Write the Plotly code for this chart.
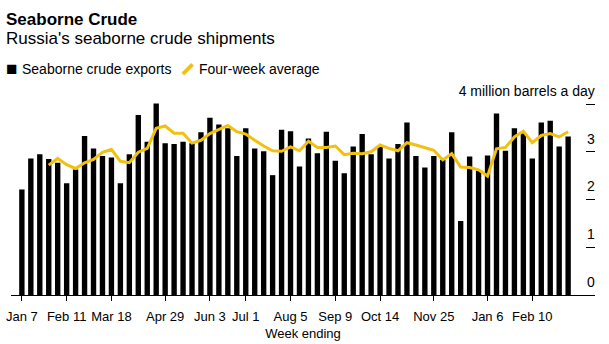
import plotly.graph_objects as go
import pandas as pd

weeks = pd.date_range("2018-01-07", periods=62, freq="7D")
exports = [2.21, 2.86, 2.95, 2.85, 2.77, 2.34, 2.63, 3.33, 3.07, 2.91,
           2.88, 2.34, 2.95, 3.77, 3.21, 4.01, 3.18, 3.16, 3.21, 3.18,
           3.41, 3.71, 3.57, 3.49, 2.91, 3.49, 3.07, 3.01, 2.51, 3.46,
           3.43, 2.69, 3.28, 2.97, 3.42, 2.81, 2.55, 3.11, 3.37, 2.95,
           3.11, 2.86, 3.16, 3.61, 2.91, 2.67, 2.91, 2.83, 3.41, 1.55,
           2.90, 2.60, 2.92, 3.80, 3.02, 3.49, 3.39, 2.86, 3.61, 3.65,
           3.11, 3.32]
avg_weeks = weeks[3:]
four_week_avg = [2.72, 2.86, 2.73, 2.65, 2.77, 2.84, 2.99, 3.05, 2.80, 2.77,
                 2.99, 3.07, 3.49, 3.54, 3.39, 3.39, 3.18, 3.24, 3.38, 3.47,
                 3.55, 3.42, 3.37, 3.24, 3.12, 3.02, 3.01, 3.10, 3.02, 3.22,
                 3.09, 3.09, 3.12, 2.94, 2.97, 2.96, 3.00, 3.14, 3.07, 3.02,
                 3.19, 3.14, 3.09, 3.03, 2.83, 2.96, 2.68, 2.67, 2.62, 2.49,
                 3.06, 3.09, 3.31, 3.43, 3.19, 3.34, 3.38, 3.31, 3.42]

x_tick_dates = ["2018-01-07", "2018-02-11", "2018-03-18", "2018-04-29", "2018-06-03",
                "2018-07-01", "2018-08-05", "2018-09-09", "2018-10-14", "2018-11-25",
                "2019-01-06", "2019-02-10"]
x_tick_labels = ["Jan 7", "Feb 11", "Mar 18", "Apr 29", "Jun 3", "Jul 1", "Aug 5",
                 "Sep 9", "Oct 14", "Nov 25", "Jan 6", "Feb 10"]
y_tick_vals = [0, 1, 2, 3, 4]
y_tick_labels = ["0", "1", "2", "3", "4 million barrels a day"]

FONT = "Liberation Sans, Arial, sans-serif"
YELLOW = "#F2C10F"

# plot area in pixels
L, R, T, B = 11, 14, 102, 49
W, H = 609, 344
PW = W - L - R
PH = H - T - B


def px_x(px):
    return (px - L) / PW


def px_y(py):
    return (H - B - py) / PH


fig = go.Figure()
fig.add_trace(go.Bar(x=weeks, y=exports, name="Seaborne crude exports",
                     marker=dict(color="#000000", line=dict(width=0))))
fig.add_trace(go.Scatter(x=avg_weeks, y=four_week_avg, name="Four-week average",
                         mode="lines", line=dict(color=YELLOW, width=3)))

leg_y = px_y(68.5)
fig.update_layout(
    width=W, height=H,
    margin=dict(l=L, r=R, t=T, b=B, autoexpand=False),
    paper_bgcolor="white", plot_bgcolor="white",
    font=dict(family=FONT, size=13, color="#000"),
    bargap=0.4,
    showlegend=False,
    xaxis=dict(type="date", range=["2017-12-29 12:00", "2019-03-31"],
               tickvals=x_tick_dates, ticktext=x_tick_labels,
               showline=True, linecolor="#000", linewidth=1,
               ticks="outside", ticklen=5, tickcolor="#000",
               showgrid=False, zeroline=False, automargin=False,
               tickfont=dict(size=13, color="#000"), ticklabelstandoff=4,
               title=dict(text="Week ending", font=dict(size=13, color="#000"), standoff=6)),
    yaxis=dict(range=[0, PH / 47.75], side="right",
               tickvals=y_tick_vals, ticktext=y_tick_labels,
               ticks="inside", ticklen=9, tickcolor="#000",
               ticklabelposition="inside", ticklabeloverflow="allow",
               ticklabelshift=-13, ticklabelstandoff=-9,
               showgrid=False, zeroline=False, showline=False, automargin=False,
               tickfont=dict(size=14, color="#000")),
    annotations=[
        dict(text="<b>Seaborne Crude</b>", xref="paper", yref="paper",
             x=px_x(4), y=px_y(19), xanchor="left", yanchor="middle",
             showarrow=False, font=dict(size=17, color="#000")),
        dict(text="Russia's seaborne crude shipments", xref="paper", yref="paper",
             x=px_x(4), y=px_y(39), xanchor="left", yanchor="middle",
             showarrow=False, font=dict(size=17, color="#000")),
        dict(text="■", xref="paper", yref="paper",
             x=px_x(4), y=px_y(68), xanchor="left", yanchor="middle",
             showarrow=False, font=dict(size=19, color="#000")),
        dict(text="Seaborne crude exports", xref="paper", yref="paper",
             x=px_x(20), y=leg_y, xanchor="left", yanchor="middle",
             showarrow=False, font=dict(size=14, color="#000")),
        dict(text="━", xref="paper", yref="paper",
             x=px_x(187.5), y=px_y(69), xanchor="center", yanchor="middle",
             textangle=-45, showarrow=False,
             font=dict(family="DejaVu Sans", size=22, color=YELLOW)),
        dict(text="Four-week average", xref="paper", yref="paper",
             x=px_x(197), y=leg_y, xanchor="left", yanchor="middle",
             showarrow=False, font=dict(size=14, color="#000")),
    ],
)

fig.write_html("out.html")
